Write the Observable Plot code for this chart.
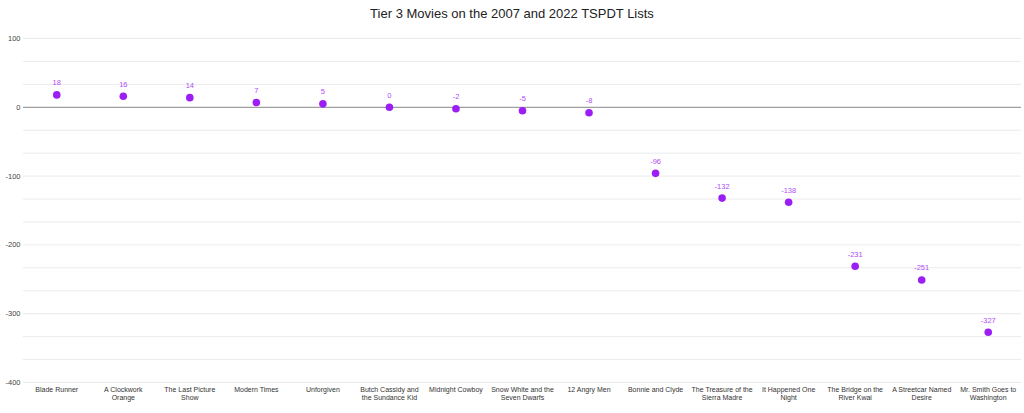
<!DOCTYPE html>
<html>
<head>
<meta charset="utf-8">
<script src="https://cdn.jsdelivr.net/npm/d3@7"></script>
<script src="https://cdn.jsdelivr.net/npm/@observablehq/plot@0.6"></script>
<style>
  body { margin: 0; background: #fff; font-family: "Liberation Sans", Arial, sans-serif; }
  #title { height: 28px; line-height: 28px; text-align: center; font-size: 13px; color: #222; width: 1024px; }
</style>
</head>
<body>
<div id="title">Tier 3 Movies on the 2007 and 2022 TSPDT Lists</div>
<div id="chart"></div>
<script>
const movies = ["Blade Runner", "A Clockwork Orange", "The Last Picture Show", "Modern Times", "Unforgiven",
  "Butch Cassidy and the Sundance Kid", "Midnight Cowboy", "Snow White and the Seven Dwarfs", "12 Angry Men",
  "Bonnie and Clyde", "The Treasure of the Sierra Madre", "It Happened One Night", "The Bridge on the River Kwai",
  "A Streetcar Named Desire", "Mr. Smith Goes to Washington"];
const tickLabels = ["Blade Runner", "A Clockwork\nOrange", "The Last Picture\nShow", "Modern Times", "Unforgiven",
  "Butch Cassidy and\nthe Sundance Kid", "Midnight Cowboy", "Snow White and the\nSeven Dwarfs", "12 Angry Men",
  "Bonnie and Clyde", "The Treasure of the\nSierra Madre", "It Happened One\nNight", "The Bridge on the\nRiver Kwai",
  "A Streetcar Named\nDesire", "Mr. Smith Goes to\nWashington"];
const changes = [18, 16, 14, 7, 5, 0, -2, -5, -8, -96, -132, -138, -231, -251, -327];
const yTicks = [100, 0, -100, -200, -300, -400];
const gridTicks = [100, 200/3, 100/3, -100/3, -200/3, -100, -400/3, -500/3, -200, -700/3, -800/3, -300, -1000/3, -1100/3, -400];

const data = movies.map((m, i) => ({movie: m, change: changes[i]}));
const labelOf = new Map(movies.map((m, i) => [m, tickLabels[i]]));

const chart = Plot.plot({
  width: 1024,
  height: 385,
  marginTop: 10,
  marginBottom: 31,
  marginLeft: 23,
  marginRight: 3,
  style: {fontFamily: "'Liberation Sans', Arial, sans-serif", fontSize: "8px", background: "#fff"},
  x: {type: "band", domain: movies, padding: 0, round: false, label: null},
  y: {domain: [-400, 100], label: null},
  marks: [
    Plot.gridY(gridTicks, {stroke: "#ebebeb", strokeOpacity: 1}),
    Plot.ruleY([0], {stroke: "#888", strokeWidth: 1}),
    Plot.axisY(yTicks, {tickSize: 0, tickPadding: 3, fill: "#444", fontSize: 7.5, label: null, tickFormat: d => String(d)}),
    Plot.axisX({tickSize: 0, tickPadding: 4, fill: "#333", fontSize: 7, label: null, lineHeight: 1.15,
      tickFormat: d => labelOf.get(d)}),
    Plot.dot(data, {x: "movie", y: "change", r: 3.8, fill: "#9b1ff5", stroke: "none"}),
    Plot.text(data, {x: "movie", y: "change", text: d => String(d.change), dy: -12, fill: "#b04cf7", fontSize: 7.5})
  ]
});
document.getElementById("chart").appendChild(chart);
</script>
</body>
</html>
